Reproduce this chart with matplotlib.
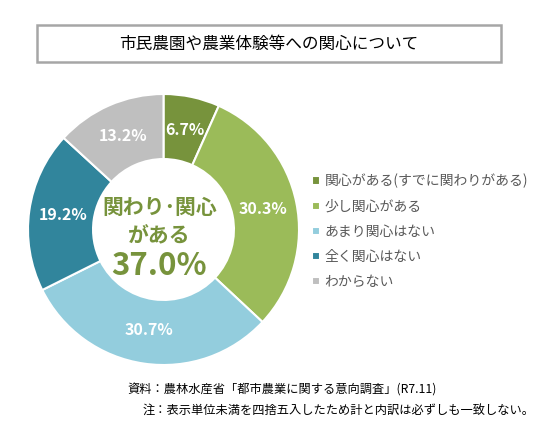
import matplotlib.pyplot as plt
from matplotlib.patches import Rectangle

plt.rcParams['font.family'] = ['Noto Sans CJK JP', 'DejaVu Sans']

# データ
labels = ['関心がある(すでに関わりがある)', '少し関心がある', 'あまり関心はない', '全く関心はない', 'わからない']
values = [6.7, 30.3, 30.7, 19.2, 13.2]
colors = ['#77933C', '#9BBB59', '#93CDDD', '#31859C', '#BFBFBF']
title = '市民農園や農業体験等への関心について'
center_lines = ['関わり･関心', 'がある']
center_value = '37.0%'
notes = ['資料：農林水産省「都市農業に関する意向調査」(R7.11)',
         '注：表示単位未満を四捨五入したため計と内訳は必ずしも一致しない。']

W, H = 554, 430
fig = plt.figure(figsize=(W / 100, H / 100), dpi=100)

# タイトル枠
fig.patches.append(Rectangle((37 / W, 1 - 62 / H), 464 / W, 37 / H, transform=fig.transFigure,
                             facecolor='white', edgecolor='#A6A6A6', linewidth=1.8))
fig.text(269 / W, 1 - 44 / H, title, ha='center', va='center', fontsize=12, color='black')

# ドーナツ
ax = fig.add_axes([28 / W, 65 / H, 271 / W, 271 / H])
wedges, texts, autotexts = ax.pie(values, colors=colors, startangle=90, counterclock=False,
                                  radius=1, autopct='%.1f%%', pctdistance=0.75,
                                  wedgeprops=dict(width=0.48, edgecolor='white', linewidth=1.5),
                                  textprops=dict(color='white', fontsize=11.5, fontweight='bold'))
ax.set_xlim(-1, 1)
ax.set_ylim(-1, 1)
ax.set_aspect('equal')

ax.text(-0.03, 0.16, center_lines[0], ha='center', va='center', fontsize=15,
        fontweight='bold', color='#77933C')
ax.text(-0.03, -0.05, center_lines[1], ha='center', va='center', fontsize=15,
        fontweight='bold', color='#77933C')
ax.text(-0.03, -0.27, center_value, ha='center', va='center', fontsize=22.5,
        fontweight='bold', color='#77933C')

# 凡例
fig.legend(wedges, labels, loc='upper left', bbox_to_anchor=(305 / W, 1 - 167 / H),
           frameon=False, fontsize=10, labelcolor='#595959', handlelength=0.55,
           handleheight=0.55, handletextpad=0.35, labelspacing=0.8, borderpad=0)

# 注記
fig.text(127 / W, 1 - 390 / H, notes[0], ha='left', va='center', fontsize=8.8, color='black')
fig.text(143 / W, 1 - 411 / H, notes[1], ha='left', va='center', fontsize=8.8, color='black')

plt.savefig('out.png', dpi=100)
